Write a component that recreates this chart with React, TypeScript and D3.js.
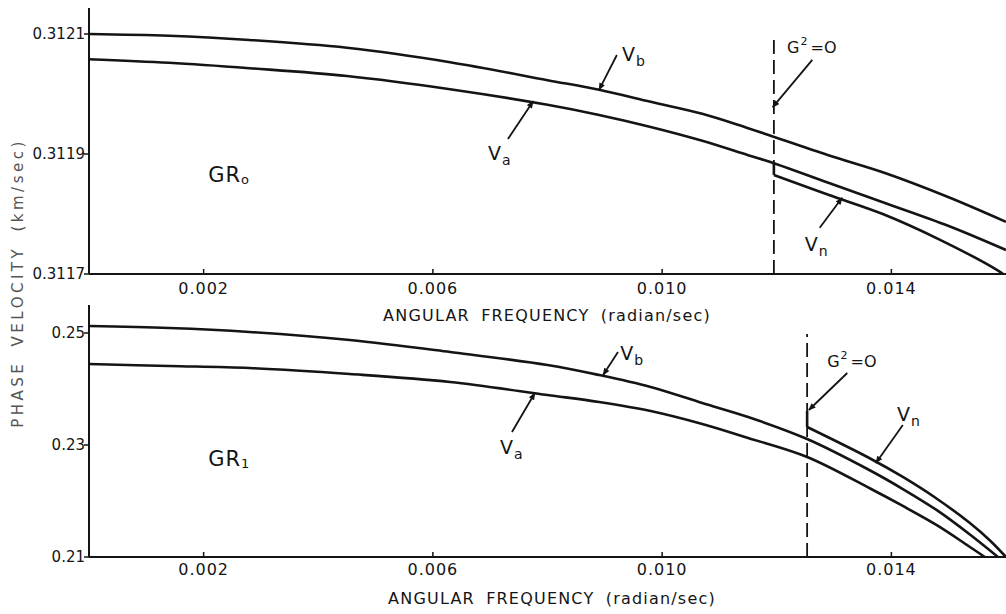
import React from 'react';
import * as d3 from 'd3';

// frequency axis (shared by both panels)
const freqTicks = [0.002, 0.006, 0.010, 0.014];
const freqTickLabels = ['0.002', '0.006', '0.010', '0.014'];

// GR0 panel
const gr0Ticks = [0.3117, 0.3119, 0.3121];
const gr0TickLabels = ['0.3117', '0.3119', '0.3121'];
const gr0VbFreq = [0, 0.0014, 0.0028, 0.0045, 0.0063, 0.0080, 0.0089, 0.0098, 0.0107, 0.0115, 0.0129, 0.0139, 0.0150, 0.0160];
const gr0Vb = [0.31210, 0.312097, 0.31209, 0.312077, 0.312053, 0.312023, 0.312007, 0.311987, 0.311967, 0.311943, 0.311898, 0.311868, 0.311828, 0.311787];
const gr0VaFreq = [0, 0.0014, 0.0028, 0.0045, 0.0063, 0.0080, 0.0089, 0.0098, 0.0107, 0.0115, 0.0120, 0.0129, 0.0139, 0.0150, 0.0160];
const gr0Va = [0.312058, 0.312052, 0.312043, 0.31203, 0.312008, 0.311982, 0.311965, 0.311945, 0.311922, 0.311898, 0.311883, 0.311852, 0.311818, 0.31178, 0.31174];
const gr0VnFreq = [0.01195, 0.01195, 0.0129, 0.01385, 0.01485, 0.01584, 0.01595];
const gr0Vn = [0.311884, 0.311865, 0.311832, 0.3118, 0.311757, 0.311707, 0.3117];
const gr0Cutoff = 0.01195;

// GR1 panel
const gr1Ticks = [0.21, 0.23, 0.25];
const gr1TickLabels = ['0.21', '0.23', '0.25'];
const gr1VbFreq = [0, 0.0014, 0.0028, 0.00455, 0.0063, 0.0080, 0.0089, 0.0098, 0.0107, 0.0115, 0.01253, 0.01363, 0.0142, 0.0148, 0.01537, 0.01586];
const gr1Vb = [0.25125, 0.25089, 0.25018, 0.24875, 0.24661, 0.24429, 0.2425, 0.24036, 0.2375, 0.235, 0.23107, 0.22545, 0.22214, 0.21832, 0.21402, 0.21];
const gr1VaFreq = [0, 0.0014, 0.0028, 0.00455, 0.0063, 0.0080, 0.0089, 0.0098, 0.0107, 0.0115, 0.01253, 0.01363, 0.0142, 0.0148, 0.01537, 0.01563];
const gr1Va = [0.24446, 0.24411, 0.24375, 0.24268, 0.24125, 0.23893, 0.23768, 0.23607, 0.23375, 0.23125, 0.22786, 0.22223, 0.21911, 0.21564, 0.21179, 0.21];
const gr1VnFreq = [0.01253, 0.01253, 0.01363, 0.0142, 0.0148, 0.01537, 0.01572, 0.0160];
const gr1Vn = [0.23607, 0.23321, 0.22759, 0.22429, 0.22036, 0.21607, 0.21295, 0.21];
const gr1Cutoff = 0.01253;

// annotations, in data units: label anchor and leader from -> to
const gr0Notes = [
  { name: 'V', sub: 'b', at: [0.0093, 0.312055], arrow: [[0.00921, 0.312065], [0.0089, 0.312007]] },
  { name: 'V', sub: 'a', at: [0.00696, 0.31189], arrow: [[0.00731, 0.311925], [0.00775, 0.311988]] },
  { name: 'V', sub: 'n', at: [0.01249, 0.311738], arrow: [[0.01275, 0.311777], [0.01314, 0.311827]] },
];
const gr0G2 = { at: [0.01218, 0.312068], arrow: [[0.01262, 0.312057], [0.01193, 0.311978]] };
const gr1Notes = [
  { name: 'V', sub: 'b', at: [0.00927, 0.24518], arrow: [[0.00923, 0.24661], [0.00897, 0.2425]] },
  { name: 'V', sub: 'a', at: [0.00717, 0.22839], arrow: [[0.00738, 0.23232], [0.00778, 0.23929]] },
  { name: 'V', sub: 'n', at: [0.0141, 0.23429], arrow: [[0.0142, 0.23357], [0.01373, 0.22679]] },
];
const gr1G2 = { at: [0.01288, 0.24393], arrow: [[0.01323, 0.24286], [0.01256, 0.23625]] };

const W = 1006;
const H = 614;
const INK = '#141414';
const FONT = '"DejaVu Sans", Verdana, sans-serif';

const x = d3.scaleLinear().domain([0, 0.016]).range([89, 1006]);

const zip = (xs: number[], ys: number[]) => xs.map((d, i) => [d, ys[i]] as [number, number]);

function Panel({ y, ticks, tickLabels, axisTop, vb, va, vn, cutoff, notes, g2, grSub, grAt, tickDy, titleY, titleX }: any) {
  const base = y.range()[0];
  const smooth = d3.line<[number, number]>().x(d => x(d[0])).y(d => y(d[1])).curve(d3.curveCatmullRom.alpha(0.5));
  const straight = d3.line<[number, number]>().x(d => x(d[0])).y(d => y(d[1]));
  return (
    <g>
      {/* axes */}
      <line x1={x(0)} x2={x(0)} y1={base} y2={axisTop} stroke={INK} strokeWidth={2} />
      <line x1={x(0)} x2={W} y1={base} y2={base} stroke={INK} strokeWidth={2} />
      {ticks.map((t: number, i: number) => (
        <g key={t}>
          <line x1={x(0) - 5} x2={x(0)} y1={y(t)} y2={y(t)} stroke={INK} strokeWidth={1.5} />
          <text x={x(0) - 4} y={y(t)} dy="0.36em" textAnchor="end" fontSize={15} fill={INK}>{tickLabels[i]}</text>
        </g>
      ))}
      {freqTicks.map((t, i) => (
        <g key={t}>
          <line x1={x(t)} x2={x(t)} y1={base} y2={base - 5} stroke={INK} strokeWidth={1.5} />
          <text x={x(t)} y={base + tickDy} dy="0.36em" textAnchor="middle" fontSize={16} letterSpacing={1} fill={INK}>{freqTickLabels[i]}</text>
        </g>
      ))}
      <text x={titleX} y={titleY} dy="0.36em" textAnchor="middle" fontSize={16} letterSpacing={1.2} wordSpacing={5} fill={INK}>
        ANGULAR FREQUENCY (radian/sec)
      </text>

      {/* G^2 = 0 cutoff */}
      <line x1={x(cutoff)} x2={x(cutoff)} y1={base} y2={axisTop + 29} stroke={INK} strokeWidth={1.8} strokeDasharray="14,6" />

      {/* curves */}
      <g fill="none" stroke={INK} strokeWidth={2.6} strokeLinejoin="round">
        <path d={smooth(vb) || ''} />
        <path d={smooth(va) || ''} />
        <path d={straight(vn.slice(0, 2)) || ''} />
        <path d={smooth(vn.slice(1)) || ''} />
      </g>

      {/* labels with leaders */}
      {notes.map((n: any, i: number) => (
        <g key={i}>
          <line x1={x(n.arrow[0][0])} y1={y(n.arrow[0][1])} x2={x(n.arrow[1][0])} y2={y(n.arrow[1][1])}
            stroke={INK} strokeWidth={1.8} markerEnd="url(#tip)" />
          <text x={x(n.at[0])} y={y(n.at[1])} fontSize={19} fill={INK}>
            {n.name}<tspan fontSize={14} dy={5} dx={1}>{n.sub}</tspan>
          </text>
        </g>
      ))}
      <line x1={x(g2.arrow[0][0])} y1={y(g2.arrow[0][1])} x2={x(g2.arrow[1][0])} y2={y(g2.arrow[1][1])}
        stroke={INK} strokeWidth={1.8} markerEnd="url(#tip)" />
      <text x={x(g2.at[0])} y={y(g2.at[1])} fontSize={16} fill={INK}>
        G<tspan fontSize={11} dy={-8} dx={1}>2</tspan><tspan dy={8} dx={3}>=O</tspan>
      </text>

      <text x={x(grAt[0])} y={y(grAt[1])} fontSize={21} letterSpacing={1} fill={INK}>
        GR<tspan fontSize={13} dy={2}>{grSub}</tspan>
      </text>
    </g>
  );
}

export default function App() {
  const yTop = d3.scaleLinear().domain([0.3117, 0.3121]).range([274, 34]);
  const yBot = d3.scaleLinear().domain([0.21, 0.25]).range([557, 333]);
  return (
    <svg width={W} height={H} viewBox={`0 0 ${W} ${H}`} fontFamily={FONT}
      style={{ position: 'absolute', left: 0, top: 0, background: '#fff' }}>
      <defs>
        <marker id="tip" viewBox="0 0 10 8" refX={9} refY={4} markerWidth={8} markerHeight={6}
          markerUnits="userSpaceOnUse" orient="auto">
          <path d="M0,0 L10,4 L0,8 z" fill={INK} />
        </marker>
      </defs>
      <rect width={W} height={H} fill="#fff" />
      <Panel y={yTop} ticks={gr0Ticks} tickLabels={gr0TickLabels} axisTop={8}
        vb={zip(gr0VbFreq, gr0Vb)} va={zip(gr0VaFreq, gr0Va)} vn={zip(gr0VnFreq, gr0Vn)}
        cutoff={gr0Cutoff} notes={gr0Notes} g2={gr0G2} grSub="o" grAt={[0.00208, 0.311853]}
        tickDy={14} titleY={315} titleX={547} />
      <Panel y={yBot} ticks={gr1Ticks} tickLabels={gr1TickLabels} axisTop={305}
        vb={zip(gr1VbFreq, gr1Vb)} va={zip(gr1VaFreq, gr1Va)} vn={zip(gr1VnFreq, gr1Vn)}
        cutoff={gr1Cutoff} notes={gr1Notes} g2={gr1G2} grSub="1" grAt={[0.00208, 0.22625]}
        tickDy={12} titleY={598} titleX={552} />
      <text transform="translate(18,283) rotate(-90)" dy="0.36em" textAnchor="middle" fontSize={15}
        letterSpacing={3.5} wordSpacing={6} fill="#555">PHASE VELOCITY (km/sec)</text>
    </svg>
  );
}
